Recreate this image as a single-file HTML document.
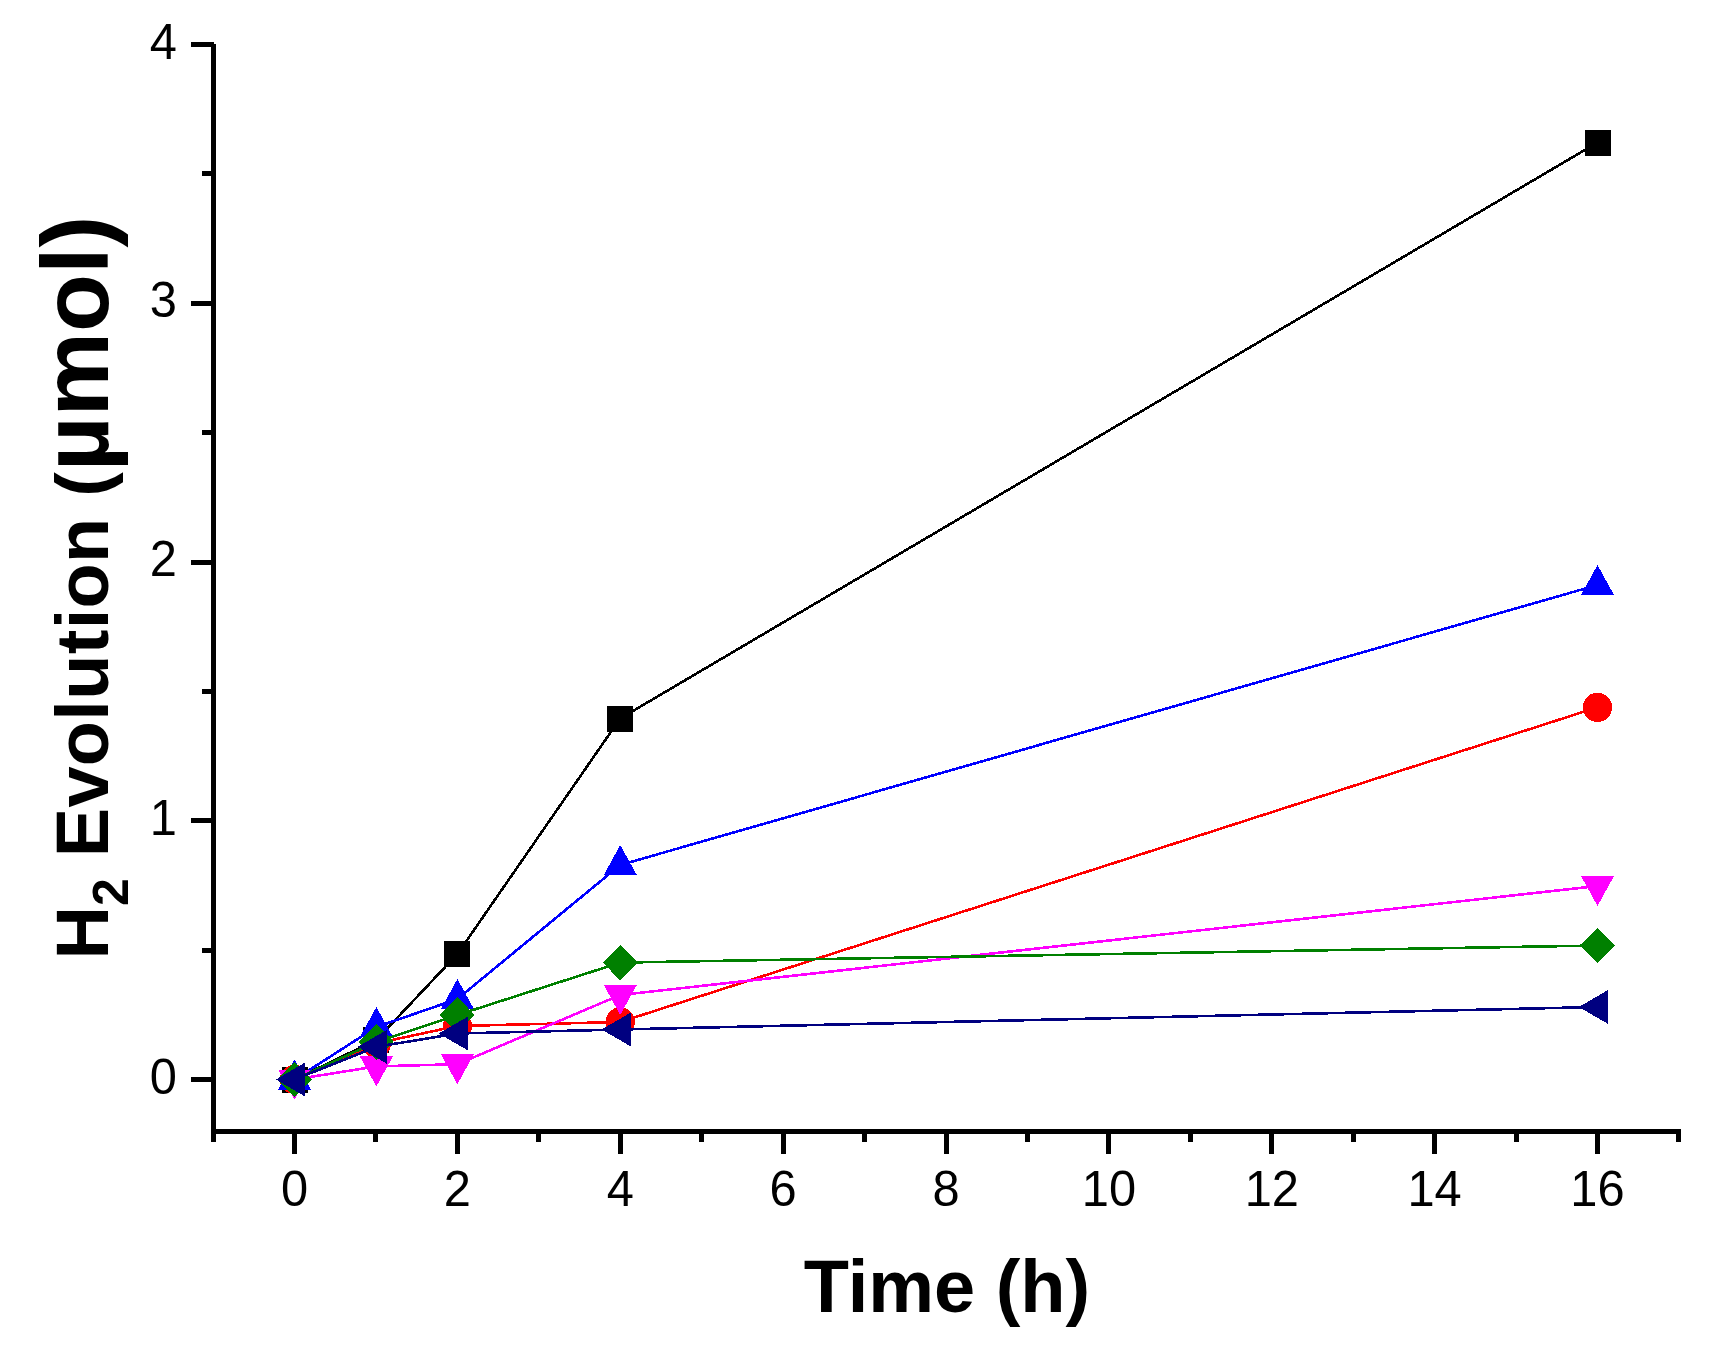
<!DOCTYPE html>
<html lang="en"><head><meta charset="utf-8"><title>H2 Evolution vs Time</title>
<style>html,body{margin:0;padding:0;background:#fff;}body{width:1717px;height:1364px;overflow:hidden;}svg{display:block;}text{font-family:"Liberation Sans",Arial,Helvetica,sans-serif;fill:#000;}.tk{font-size:48.8px;}.ttl{font-weight:bold;font-size:74px;}</style></head><body>
<svg width="1717" height="1364" viewBox="0 0 1717 1364">
<rect x="0" y="0" width="1717" height="1364" fill="#ffffff"/>
<g shape-rendering="crispEdges">
<polyline points="294.5,1079.5 376.4,1040.0 457.4,954.0 620.2,718.5 1597.5,142.5" fill="none" stroke="#000000" stroke-width="2.6"/>
<rect x="281.5" y="1066.5" width="26" height="26" fill="#000000"/>
<rect x="363.4" y="1027.0" width="26" height="26" fill="#000000"/>
<rect x="444.4" y="941.0" width="26" height="26" fill="#000000"/>
<rect x="607.2" y="705.5" width="26" height="26" fill="#000000"/>
<rect x="1584.5" y="129.5" width="26" height="26" fill="#000000"/>
<polyline points="294.5,1079.5 376.4,1043.3 457.4,1026.0 620.2,1022.0 1597.5,707.3" fill="none" stroke="#ff0000" stroke-width="2.6"/>
<circle cx="294.5" cy="1079.5" r="14.6" fill="#ff0000"/>
<circle cx="376.4" cy="1043.3" r="14.6" fill="#ff0000"/>
<circle cx="457.4" cy="1026.0" r="14.6" fill="#ff0000"/>
<circle cx="620.2" cy="1022.0" r="14.6" fill="#ff0000"/>
<circle cx="1597.5" cy="707.3" r="14.6" fill="#ff0000"/>
<polyline points="294.5,1079.5 376.4,1027.0 457.4,999.0 620.2,865.0 1597.5,585.0" fill="none" stroke="#0000ff" stroke-width="2.6"/>
<polygon points="294.5,1059.5 311.0,1089.5 278.0,1089.5" fill="#0000ff"/>
<polygon points="376.4,1007.0 392.9,1037.0 359.9,1037.0" fill="#0000ff"/>
<polygon points="457.4,979.0 473.9,1009.0 440.9,1009.0" fill="#0000ff"/>
<polygon points="620.2,845.0 636.8,875.0 603.8,875.0" fill="#0000ff"/>
<polygon points="1597.5,565.0 1614.0,595.0 1581.0,595.0" fill="#0000ff"/>
<polyline points="294.5,1079.5 376.4,1066.4 457.4,1064.2 620.2,995.0 1597.5,886.0" fill="none" stroke="#ff00ff" stroke-width="2.6"/>
<polygon points="294.5,1099.5 311.0,1069.5 278.0,1069.5" fill="#ff00ff"/>
<polygon points="376.4,1086.4 392.9,1056.4 359.9,1056.4" fill="#ff00ff"/>
<polygon points="457.4,1084.2 473.9,1054.2 440.9,1054.2" fill="#ff00ff"/>
<polygon points="620.2,1015.0 636.8,985.0 603.8,985.0" fill="#ff00ff"/>
<polygon points="1597.5,906.0 1614.0,876.0 1581.0,876.0" fill="#ff00ff"/>
<polyline points="294.5,1079.5 376.4,1041.9 457.4,1015.0 620.2,962.6 1597.5,945.5" fill="none" stroke="#008000" stroke-width="2.6"/>
<polygon points="277.0,1079.5 294.5,1061.7 312.0,1079.5 294.5,1097.3" fill="#008000"/>
<polygon points="358.9,1041.9 376.4,1024.1 393.9,1041.9 376.4,1059.7" fill="#008000"/>
<polygon points="439.9,1015.0 457.4,997.2 474.9,1015.0 457.4,1032.8" fill="#008000"/>
<polygon points="602.8,962.6 620.2,944.8 637.8,962.6 620.2,980.4" fill="#008000"/>
<polygon points="1580.0,945.5 1597.5,927.7 1615.0,945.5 1597.5,963.3" fill="#008000"/>
<polyline points="294.5,1079.5 376.4,1046.8 457.4,1033.5 620.2,1029.5 1597.5,1007.0" fill="none" stroke="#000080" stroke-width="2.6"/>
<polygon points="275.8,1079.5 305.1,1062.5 305.1,1096.5" fill="#000080"/>
<polygon points="357.7,1046.8 387.0,1029.8 387.0,1063.8" fill="#000080"/>
<polygon points="438.7,1033.5 468.0,1016.5 468.0,1050.5" fill="#000080"/>
<polygon points="601.5,1029.5 630.9,1012.5 630.9,1046.5" fill="#000080"/>
<polygon points="1578.8,1007.0 1608.1,990.0 1608.1,1024.0" fill="#000080"/>
</g>
<g fill="#000" shape-rendering="crispEdges">
<rect x="211" y="44" width="5" height="1098"/>
<rect x="211" y="1129" width="1470" height="5"/>
<rect x="191" y="1077.0" width="23" height="5"/>
<rect x="202" y="947.6" width="10" height="5"/>
<rect x="191" y="818.2" width="23" height="5"/>
<rect x="202" y="688.9" width="10" height="5"/>
<rect x="191" y="559.5" width="23" height="5"/>
<rect x="202" y="430.1" width="10" height="5"/>
<rect x="191" y="300.8" width="23" height="5"/>
<rect x="202" y="171.4" width="10" height="5"/>
<rect x="191" y="42.0" width="23" height="5"/>
<rect x="210.6" y="1131" width="5" height="11"/>
<rect x="292.0" y="1131" width="5" height="23"/>
<rect x="373.4" y="1131" width="5" height="11"/>
<rect x="454.9" y="1131" width="5" height="23"/>
<rect x="536.3" y="1131" width="5" height="11"/>
<rect x="617.8" y="1131" width="5" height="23"/>
<rect x="699.2" y="1131" width="5" height="11"/>
<rect x="780.6" y="1131" width="5" height="23"/>
<rect x="862.1" y="1131" width="5" height="11"/>
<rect x="943.5" y="1131" width="5" height="23"/>
<rect x="1024.9" y="1131" width="5" height="11"/>
<rect x="1106.4" y="1131" width="5" height="23"/>
<rect x="1187.8" y="1131" width="5" height="11"/>
<rect x="1269.2" y="1131" width="5" height="23"/>
<rect x="1350.7" y="1131" width="5" height="11"/>
<rect x="1432.1" y="1131" width="5" height="23"/>
<rect x="1513.6" y="1131" width="5" height="11"/>
<rect x="1595.0" y="1131" width="5" height="23"/>
<rect x="1676.4" y="1131" width="5" height="11"/>
</g>
<text class="tk" transform="translate(177,1093.5) scale(1,1.042)" text-anchor="end">0</text>
<text class="tk" transform="translate(177,834.8) scale(1,1.042)" text-anchor="end">1</text>
<text class="tk" transform="translate(177,576.0) scale(1,1.042)" text-anchor="end">2</text>
<text class="tk" transform="translate(177,317.2) scale(1,1.042)" text-anchor="end">3</text>
<text class="tk" transform="translate(177,58.5) scale(1,1.042)" text-anchor="end">4</text>
<text class="tk" transform="translate(294.5,1206) scale(1,1.042)" text-anchor="middle">0</text>
<text class="tk" transform="translate(457.4,1206) scale(1,1.042)" text-anchor="middle">2</text>
<text class="tk" transform="translate(620.2,1206) scale(1,1.042)" text-anchor="middle">4</text>
<text class="tk" transform="translate(783.1,1206) scale(1,1.042)" text-anchor="middle">6</text>
<text class="tk" transform="translate(946.0,1206) scale(1,1.042)" text-anchor="middle">8</text>
<text class="tk" transform="translate(1108.9,1206) scale(1,1.042)" text-anchor="middle">10</text>
<text class="tk" transform="translate(1271.8,1206) scale(1,1.042)" text-anchor="middle">12</text>
<text class="tk" transform="translate(1434.6,1206) scale(1,1.042)" text-anchor="middle">14</text>
<text class="tk" transform="translate(1597.5,1206) scale(1,1.042)" text-anchor="middle">16</text>
<text class="ttl" x="947" y="1312" text-anchor="middle">Time (h)</text>
<text class="ttl" transform="translate(108,959.4) rotate(-90)" x="0" y="0">H<tspan font-size="50" dy="20">2</tspan><tspan dy="-20" letter-spacing="0.3"> Evolution (</tspan><tspan font-size="95" dx="0.5">µmol)</tspan></text>
</svg></body></html>
